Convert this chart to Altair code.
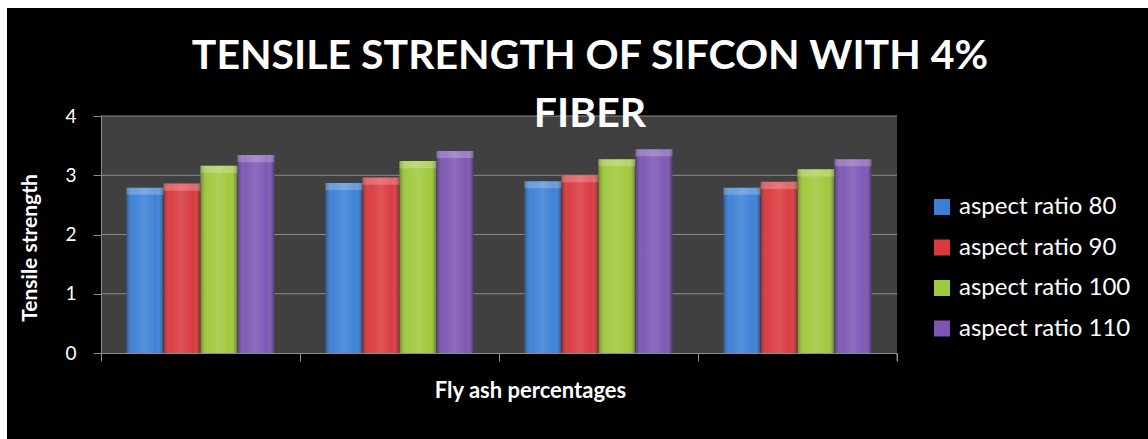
import altair as alt
import pandas as pd

# Four fly-ash mixes (unlabelled on the axis) and the four fibre aspect ratios
mixes = ["FA-1", "FA-2", "FA-3", "FA-4"]
series = ["aspect ratio 80", "aspect ratio 90", "\u00a0aspect ratio 100", "aspect ratio 110"]
colors = ["#3a7fd5", "#d9383c", "#9fc83a", "#7b55b3"]

ar80 = [2.79, 2.87, 2.90, 2.79]
ar90 = [2.86, 2.96, 3.00, 2.89]
ar100 = [3.16, 3.24, 3.27, 3.10]
ar110 = [3.34, 3.41, 3.44, 3.27]

y_ticks = [0, 1, 2, 3, 4]
grid_vals = [1, 2, 3, 4]
title_lines = ["TENSILE STRENGTH OF SIFCON WITH 4%", "FIBER"]

W, H = 796, 237
FONT = "Lato"

rows = []
for name, vals in zip(series, [ar80, ar90, ar100, ar110]):
    for mix, v in zip(mixes, vals):
        rows.append({"mix": mix, "series": name, "value": v})
df = pd.DataFrame(rows)
one = pd.DataFrame({"k": [0]})
grid_df = pd.DataFrame({"value": grid_vals})

x_enc = alt.X("mix:N", sort=mixes,
              scale=alt.Scale(paddingInner=0, paddingOuter=0),
              axis=alt.Axis(labels=False, title="Fly ash percentages",
                            tickBand="extent", tickSize=8,
                            domainColor="#8c8c8c", tickColor="#8c8c8c",
                            titleColor="white", titleFont=FONT,
                            titleFontSize=22, titleFontWeight="bold",
                            titleX=429, titleY=44, titleAlign="center",
                            titleBaseline="alphabetic", zindex=1))
xo_enc = alt.XOffset("series:N", sort=series,
                     scale=alt.Scale(paddingInner=0, paddingOuter=0.69))
y_enc = alt.Y("value:Q",
              scale=alt.Scale(domain=[0, 4], nice=False, zero=True),
              axis=alt.Axis(values=y_ticks, grid=False, tickSize=8,
                            domainColor="#8c8c8c", tickColor="#8c8c8c",
                            labelColor="white", labelFont=FONT,
                            labelFontSize=19, labelPadding=17,
                            title="Tensile strength", titleColor="white",
                            titleFont=FONT, titleFontSize=21,
                            titleFontWeight="bold", titleAngle=270,
                            titleX=-65, titleY=131.5, titleAlign="center",
                            titleBaseline="alphabetic", zindex=1))

# black chart area (white margin left at top and left edge)
backdrop = alt.Chart(one).mark_rect(color="black").encode(
    x=alt.value(-94), x2=alt.value(1047), y=alt.value(-108), y2=alt.value(323))

# dark grey plot area
plot_fill = alt.Chart(one).mark_rect(color="#404040").encode(
    x=alt.value(0), x2=alt.value(W), y=alt.value(0), y2=alt.value(H))

gridlines = alt.Chart(grid_df).mark_rule(color="#8c8c8c", strokeWidth=1.2).encode(
    y=y_enc, x=alt.value(0), x2=alt.value(W))

bars = alt.Chart(df).mark_bar().encode(
    x=x_enc, xOffset=xo_enc, y=y_enc,
    color=alt.Color("series:N", sort=series,
                    scale=alt.Scale(domain=series, range=colors),
                    legend=alt.Legend(title=None, orient="none",
                                      legendX=829, legendY=79,
                                      direction="vertical",
                                      labelColor="white", labelFont=FONT,
                                      labelFontSize=24, labelOffset=5,
                                      labelLimit=400,
                                      symbolType="square", symbolSize=256,
                                      symbolStrokeWidth=0, rowPadding=16.5,
                                      zindex=1)))

# cylindrical shading across each bar
sheen = alt.Chart(df).mark_bar(
    fill=alt.Gradient(
        gradient="linear", x1=0, x2=1, y1=0, y2=0,
        stops=[
            alt.GradientStop(color="rgba(0,0,0,0.30)", offset=0),
            alt.GradientStop(color="rgba(255,255,255,0.04)", offset=0.2),
            alt.GradientStop(color="rgba(255,255,255,0.14)", offset=0.5),
            alt.GradientStop(color="rgba(255,255,255,0.02)", offset=0.8),
            alt.GradientStop(color="rgba(0,0,0,0.38)", offset=1),
        ])
).encode(x=x_enc, xOffset=xo_enc, y=y_enc)

# lighter bevel on the top of each bar
bevel = alt.Chart(df).transform_calculate(
    lower="datum.value - 0.12"
).mark_bar(color="white", opacity=0.22).encode(
    x=x_enc, xOffset=xo_enc, y=y_enc, y2="lower:Q")

# closing tick at the right end of the category axis
end_tick = alt.Chart(one).mark_rule(color="#8c8c8c").encode(
    x=alt.value(W), y=alt.value(H), y2=alt.value(H + 8))

title = alt.Chart(one).mark_text(
    font=FONT, fontSize=41, fontWeight="bold", color="white",
    align="center", baseline="alphabetic", lineBreak="\n", lineHeight=58
).encode(x=alt.value(489), y=alt.value(-47),
         text=alt.value("\n".join(title_lines)))

chart = alt.layer(
    backdrop, plot_fill, gridlines, bars, sheen, bevel, end_tick, title
).properties(
    width=W, height=H,
    autosize=alt.AutoSizeParams(type="none"),
    padding={"left": 101, "top": 116, "right": 251, "bottom": 86},
    background="white",
).configure_view(strokeWidth=0)

chart.save("out.html", embed_options={"renderer": "svg", "actions": False})
